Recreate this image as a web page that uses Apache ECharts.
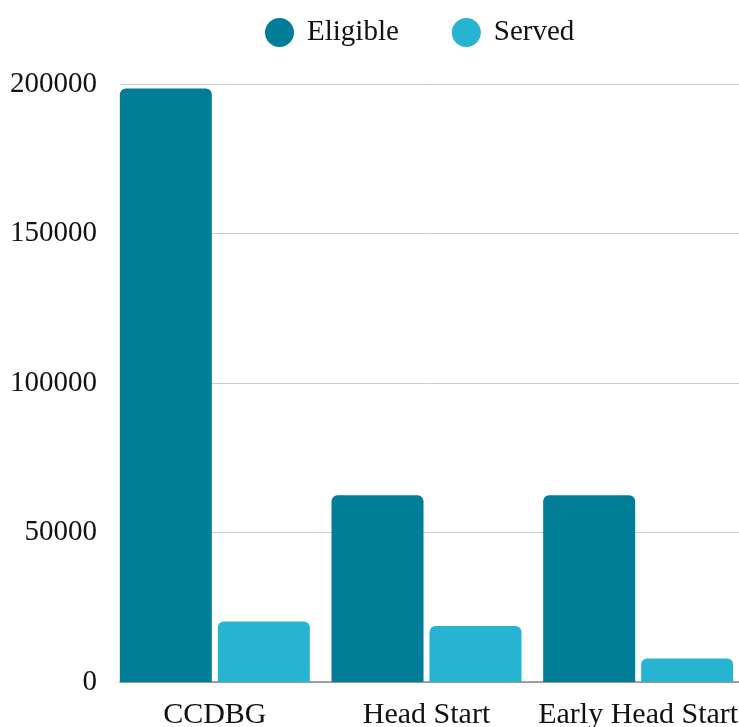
<!DOCTYPE html>
<html>
<head>
<meta charset="utf-8">
<style>
  html, body { margin: 0; padding: 0; background: #fff; }
  #chart { width: 739px; height: 727px; }
</style>
<script src="https://cdn.jsdelivr.net/npm/echarts@6/dist/echarts.min.js"></script>
</head>
<body>
<div id="chart"></div>
<script>
const programs = ['CCDBG', 'Head Start', 'Early Head Start'];
const eligible = [198500, 62500, 62500];
const served = [20200, 18700, 7900];
const yTicks = [0, 50000, 100000, 150000, 200000];

const FONT = '"Liberation Serif", "DejaVu Serif", serif';
const ELIGIBLE_COLOR = '#027d98';
const SERVED_COLOR = '#26b4d0';

const chart = echarts.init(document.getElementById('chart'));

chart.setOption({
    animation: false,
    textStyle: { fontFamily: FONT },
    legend: {
        top: 13,
        left: 260,
        itemWidth: 29,
        itemHeight: 29,
        itemGap: 53,
        icon: 'circle',
        textStyle: { fontFamily: FONT, fontSize: 29, color: '#111', padding: [0, 0, 0, 8] },
        data: ['Eligible', 'Served'],
    },
    grid: [
        // axis frame: gridlines, y labels, baseline
        { left: 120, right: 0, top: 84, bottom: 45, outerBoundsMode: 'none' },
        // bars, slightly wider than the frame
        { left: 109, right: -5, top: 84, bottom: 45, outerBoundsMode: 'none' },
    ],
    xAxis: [
        {
            gridIndex: 0,
            type: 'category',
            data: programs,
            axisLine: { lineStyle: { color: '#888', width: 1.5 } },
            axisTick: { show: false },
            axisLabel: { show: false },
        },
        {
            gridIndex: 1,
            type: 'category',
            data: programs,
            axisLine: { show: false },
            axisTick: { show: false },
            axisLabel: {
                fontFamily: FONT, fontSize: 30, color: '#111', margin: 18,
                interval: 0, hideOverlap: false,
            },
        },
    ],
    yAxis: [
        {
            gridIndex: 0,
            type: 'value',
            min: 0,
            max: yTicks[yTicks.length - 1],
            interval: yTicks[1] - yTicks[0],
            axisLine: { show: false },
            axisTick: { show: false },
            axisLabel: {
                fontFamily: FONT, fontSize: 29, color: '#111', margin: 23,
                formatter: (v) => String(v),
            },
            splitLine: { lineStyle: { color: '#cccccc', width: 1 } },
        },
        {
            gridIndex: 1,
            type: 'value',
            min: 0,
            max: yTicks[yTicks.length - 1],
            show: false,
            splitLine: { show: false },
        },
    ],
    series: [
        {
            name: 'Eligible',
            type: 'bar',
            xAxisIndex: 1,
            yAxisIndex: 1,
            data: eligible,
            barWidth: 92,
            barGap: '6.5%',
            itemStyle: { color: ELIGIBLE_COLOR, borderRadius: [6, 6, 0, 0] },
        },
        {
            name: 'Served',
            type: 'bar',
            xAxisIndex: 1,
            yAxisIndex: 1,
            data: served,
            barWidth: 92,
            barGap: '6.5%',
            itemStyle: { color: SERVED_COLOR, borderRadius: [6, 6, 0, 0] },
        },
    ],
});
</script>
</body>
</html>
